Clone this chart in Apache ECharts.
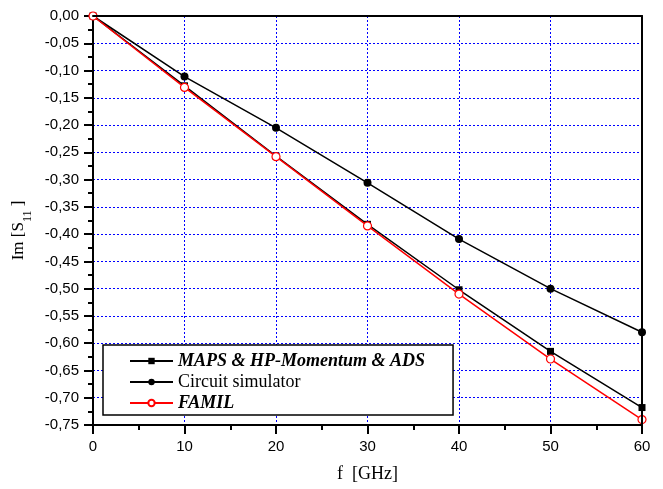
<!DOCTYPE html>
<html><head><meta charset="utf-8">
<script src="https://cdn.jsdelivr.net/npm/echarts@6/dist/echarts.min.js"></script>
<style>html,body{margin:0;padding:0;background:#fff}#c{width:663px;height:489px}</style>
</head><body><div id="c"></div>
<script>
const freq = [0, 10, 20, 30, 40, 50, 60];
const mapsVals = [0, -0.128, -0.257, -0.382, -0.502, -0.615, -0.718];
const circuitVals = [0, -0.111, -0.205, -0.306, -0.409, -0.500, -0.580];
const familVals = [0, -0.131, -0.258, -0.385, -0.510, -0.629, -0.740];
const seriesNames = ['MAPS & HP-Momentum & ADS', 'Circuit simulator', 'FAMIL'];
const boldItalic = {'MAPS & HP-Momentum & ADS': true, 'FAMIL': true};

const pair = (ys) => freq.map((x, i) => [x, ys[i]]);
const chart = echarts.init(document.getElementById('c'));
const serif = '"Liberation Serif", "Times New Roman", serif';
const sans = '"Liberation Sans", Arial, sans-serif';
const frameAxis = {
  axisLine: {show: true, onZero: false, lineStyle: {color: '#000', width: 2}},
  axisTick: {show: false}, axisLabel: {show: false}, splitLine: {show: false}, z: 10
};

chart.setOption({
  animation: false,
  grid: {left: 93, right: 21, top: 16, bottom: 64},
  xAxis: [{
    type: 'value', min: 0, max: 60, interval: 10,
    name: 'f  [GHz]', nameLocation: 'middle', nameGap: 40,
    nameTextStyle: {fontFamily: serif, fontSize: 18, color: '#000'},
    axisLine: {show: true, onZero: false, lineStyle: {color: '#000', width: 2}},
    axisTick: {show: true, inside: false, length: 9, lineStyle: {color: '#000', width: 2}},
    minorTick: {show: true, splitNumber: 2, length: 5, lineStyle: {color: '#000', width: 2}},
    axisLabel: {margin: 14, fontFamily: sans, fontSize: 15, color: '#000'},
    splitLine: {show: true, lineStyle: {color: '#0000ff', type: [2, 2], width: 1}}
  }, Object.assign({type: 'value', min: 0, max: 60, interval: 10, position: 'top'}, frameAxis)],
  yAxis: [{
    type: 'value', min: -0.75, max: 0, interval: 0.05,
    name: '{a|Im [S}{s|11}{a| ]}{p|}', nameLocation: 'middle', nameGap: 63, nameRotate: 90,
    nameTextStyle: {fontFamily: serif, fontSize: 17, color: '#000',
      rich: {a: {fontFamily: serif, fontSize: 17, color: '#000'},
             s: {fontFamily: serif, fontSize: 12, color: '#000', verticalAlign: 'bottom', padding: [0, 0, -7, 0]},
             p: {width: 20}}},
    axisLine: {show: true, onZero: false, lineStyle: {color: '#000', width: 2}},
    axisTick: {show: true, inside: false, length: 9, lineStyle: {color: '#000', width: 2}},
    minorTick: {show: true, splitNumber: 2, length: 5, lineStyle: {color: '#000', width: 2}},
    axisLabel: {margin: 14, fontFamily: sans, fontSize: 15, color: '#000',
      formatter: v => (Math.abs(v) < 1e-9 ? 0 : v).toFixed(2).replace('.', ',')},
    splitLine: {show: true, lineStyle: {color: '#0000ff', type: [2, 2], width: 1}}
  }, Object.assign({type: 'value', min: -0.75, max: 0, interval: 0.05, position: 'right'}, frameAxis)],
  legend: {
    orient: 'vertical', left: 103, top: 345,
    data: seriesNames,
    backgroundColor: '#fff', borderColor: '#000', borderWidth: 1.5,
    padding: [7, 28, 3, 26], itemGap: 3, itemWidth: 43, itemHeight: 8,
    formatter: n => boldItalic[n] ? '{bi|' + n + '}' : '{r|' + n + '}',
    textStyle: {fontFamily: serif, fontSize: 18, color: '#000',
      rich: {bi: {fontFamily: serif, fontSize: 18, fontStyle: 'italic', fontWeight: 'bold', color: '#000', lineHeight: 19},
             r: {fontFamily: serif, fontSize: 18, color: '#000', lineHeight: 19}}}
  },
  series: [
    {name: seriesNames[0], type: 'line', data: pair(mapsVals), symbol: 'rect', symbolSize: 7,
     lineStyle: {color: '#000', width: 1.5}, itemStyle: {color: '#000'}, z: 2},
    {name: seriesNames[1], type: 'line', data: pair(circuitVals), symbol: 'circle', symbolSize: 8,
     lineStyle: {color: '#000', width: 1.5}, itemStyle: {color: '#000'}, z: 3},
    {name: seriesNames[2], type: 'line', data: pair(familVals), symbol: 'circle', symbolSize: 8, showAllSymbol: true,
     lineStyle: {color: '#ff0000', width: 1.5}, itemStyle: {color: '#fff', borderColor: '#ff0000', borderWidth: 1.2}, z: 4}
  ]
});
</script></body></html>
